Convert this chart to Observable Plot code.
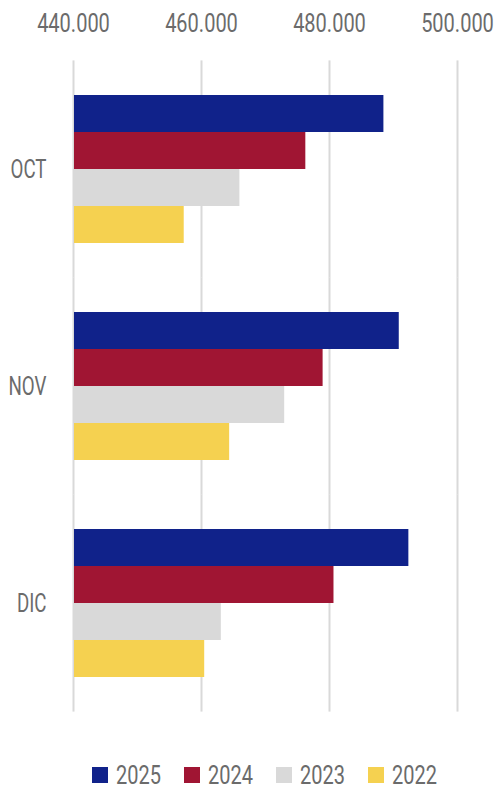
<!DOCTYPE html>
<html>
<head>
<meta charset="utf-8">
<script src="https://cdn.jsdelivr.net/npm/d3@7"></script>
<script src="https://cdn.jsdelivr.net/npm/@observablehq/plot@0.6"></script>
<style>
  html, body { margin: 0; padding: 0; background: #fff; }
  #chart { width: 496px; }
  .legend { display: flex; justify-content: center; align-items: center; margin-top: 22px;
    padding-left: 73px; padding-right: 39px; height: 26px;
    font-family: Roboto, sans-serif; font-size: 25px; color: #6b6b6b; }
  .legend .item { display: flex; align-items: center; margin: 0 11px; }
  .legend .sw { width: 16px; height: 16px; margin-right: 8px; }
  .legend .lab { display: inline-block; width: 46px; white-space: nowrap; }
  .legend .lab span { display: inline-block; transform: scaleX(0.8); transform-origin: 0 50%; }
</style>
</head>
<body>
<div id="chart"></div>
<script>
const months = ["OCT", "NOV", "DIC"];
const years = ["2025", "2024", "2023", "2022"];
const colors = ["#10228a", "#a01533", "#d9d9d9", "#f5d150"];
const v2025 = [488500, 490900, 492400];
const v2024 = [476300, 479000, 480700];
const v2023 = [466000, 473000, 463100];
const v2022 = [457300, 464400, 460500];
const xTicks = [440000, 460000, 480000, 500000];
const xDomain = [440000, 500000];

const series = [v2025, v2024, v2023, v2022];
const data = months.flatMap((m, i) => years.map((y, j) => ({month: m, year: y, value: series[j][i]})));

const fmt = d3.formatLocale({decimal: ",", thousands: ".", grouping: [3], currency: ["", ""]}).format(",");
const font = 'Roboto, sans-serif';

const H = 740, MT = 60, MB = 27;
const pInner = 0.317, pOuter = 0.159;
const step = (H - MT - MB) / (months.length - pInner + 2 * pOuter);
const halfGap = step * pOuter;

const chart = Plot.plot({
  width: 496,
  height: H,
  marginTop: MT,
  marginBottom: MB,
  marginLeft: 73,
  marginRight: 39,
  style: {fontFamily: font, fontSize: "26px", color: "#6b6b6b", background: "#fff"},
  x: {domain: xDomain, axis: "top", ticks: xTicks, tickFormat: fmt, tickSize: 0, tickPadding: 64, label: null},
  y: {domain: years, axis: null, padding: 0},
  fy: {domain: months, paddingInner: pInner, paddingOuter: pOuter, axis: "left", tickSize: 0, tickPadding: 27, label: null},
  color: {domain: years, range: colors},
  marks: [
    Plot.ruleX(xTicks, {x: d => d, stroke: "#d9d9d9", strokeWidth: 2, insetTop: -halfGap, insetBottom: -halfGap}),
    Plot.barX(data, {fy: "month", y: "year", x1: xDomain[0], x2: "value", fill: "year", insetLeft: 1})
  ]
});
document.getElementById("chart").appendChild(chart);

// condense the axis texts to imitate the narrow font of the original
chart.querySelectorAll("text").forEach(t => {
  const s = t.textContent;
  if (months.includes(s)) {
    const w = t.getComputedTextLength();
    if (w > 0) {
      t.setAttribute("textLength", (w * 0.72).toFixed(1));
      t.setAttribute("lengthAdjust", "spacingAndGlyphs");
    }
  } else {
    const tr = t.getAttribute("transform") || "";
    const x = +(t.getAttribute("x") || 0);
    const y = +(t.getAttribute("y") || 0);
    t.setAttribute("transform", `${tr} translate(${x},${y}) scale(0.77,1) translate(${-x},${-y})`);
  }
});

const legend = document.createElement("div");
legend.className = "legend";
years.forEach((y, j) => {
  const item = document.createElement("div");
  item.className = "item";
  const sw = document.createElement("span");
  sw.className = "sw";
  sw.style.background = colors[j];
  const t = document.createElement("span");
  t.className = "lab";
  const inner = document.createElement("span");
  inner.textContent = y;
  t.appendChild(inner);
  item.appendChild(sw);
  item.appendChild(t);
  legend.appendChild(item);
});
document.getElementById("chart").appendChild(legend);
</script>
</body>
</html>
